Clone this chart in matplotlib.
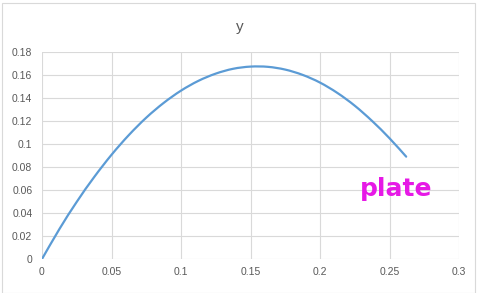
import matplotlib.pyplot as plt
from matplotlib.patches import Rectangle, PathPatch
from matplotlib.path import Path

# Values
x_vals = [0, 0.0125, 0.025, 0.0375, 0.05, 0.0625, 0.075, 0.0875, 0.1, 0.1125,
          0.125, 0.1375, 0.15, 0.1625, 0.175, 0.1875, 0.2, 0.2125, 0.225,
          0.2375, 0.25, 0.262]
y_vals = [0, 0.026, 0.0497, 0.0712, 0.0906, 0.1078, 0.1229, 0.1357, 0.1464,
          0.1549, 0.1612, 0.1654, 0.1673, 0.1671, 0.1647, 0.1601, 0.1534,
          0.1444, 0.1333, 0.1200, 0.1050, 0.0890]
x_ticks = [0, 0.05, 0.1, 0.15, 0.2, 0.25, 0.3]
x_labels = ["0", "0.05", "0.1", "0.15", "0.2", "0.25", "0.3"]
y_ticks = [0, 0.02, 0.04, 0.06, 0.08, 0.1, 0.12, 0.14, 0.16, 0.18]
y_labels = ["0", "0.02", "0.04", "0.06", "0.08", "0.1", "0.12", "0.14", "0.16", "0.18"]

plt.rcParams['font.family'] = ['Liberation Sans', 'DejaVu Sans']


def smooth_path(xs, ys):
    # Excel-style smoothed line: Catmull-Rom segments drawn as cubic Beziers
    pts = list(zip(xs, ys))
    verts = [pts[0]]
    codes = [Path.MOVETO]
    n = len(pts)
    for i in range(n - 1):
        p0 = pts[i - 1] if i > 0 else pts[i]
        p1 = pts[i]
        p2 = pts[i + 1]
        p3 = pts[i + 2] if i + 2 < n else pts[i + 1]
        c1 = (p1[0] + (p2[0] - p0[0]) / 6, p1[1] + (p2[1] - p0[1]) / 6)
        c2 = (p2[0] - (p3[0] - p1[0]) / 6, p2[1] - (p3[1] - p1[1]) / 6)
        verts += [c1, c2, p2]
        codes += [Path.CURVE4] * 3
    return Path(verts, codes)


fig = plt.figure(figsize=(4.85, 2.93), dpi=100)
ax = fig.add_axes([42 / 485, 34 / 293, 417 / 485, 207 / 293])

ax.add_patch(PathPatch(smooth_path(x_vals, y_vals), facecolor='none',
                       edgecolor='#5b9bd5', linewidth=1.6, capstyle='round'))

ax.set_xlim(0, 0.3)
ax.set_ylim(0, 0.18)
ax.set_xticks(x_ticks)
ax.set_xticklabels(x_labels)
ax.set_yticks(y_ticks)
ax.set_yticklabels(y_labels)
ax.tick_params(length=0, labelsize=7.5, labelcolor='#595959')
ax.tick_params(axis='y', pad=7)
ax.tick_params(axis='x', pad=6)
ax.grid(True, color='#d9d9d9', linewidth=0.8)
ax.set_axisbelow(True)
for s in ax.spines.values():
    s.set_visible(False)

fig.text(240 / 485, 1 - 27 / 293, "y", ha='center', va='center',
         fontsize=11, color='#595959')

ax.text(0.255, 0.061, "plate", ha='center', va='center', fontsize=18,
        fontweight='bold', color='#e619e6', family='DejaVu Sans')

# chart frame
fig.patches.append(Rectangle((2 / 485, 0), 473 / 485, 1 - 3 / 293,
                             transform=fig.transFigure, fill=False,
                             edgecolor='#d9d9d9', linewidth=0.8))

plt.savefig("out.png", dpi=100)
